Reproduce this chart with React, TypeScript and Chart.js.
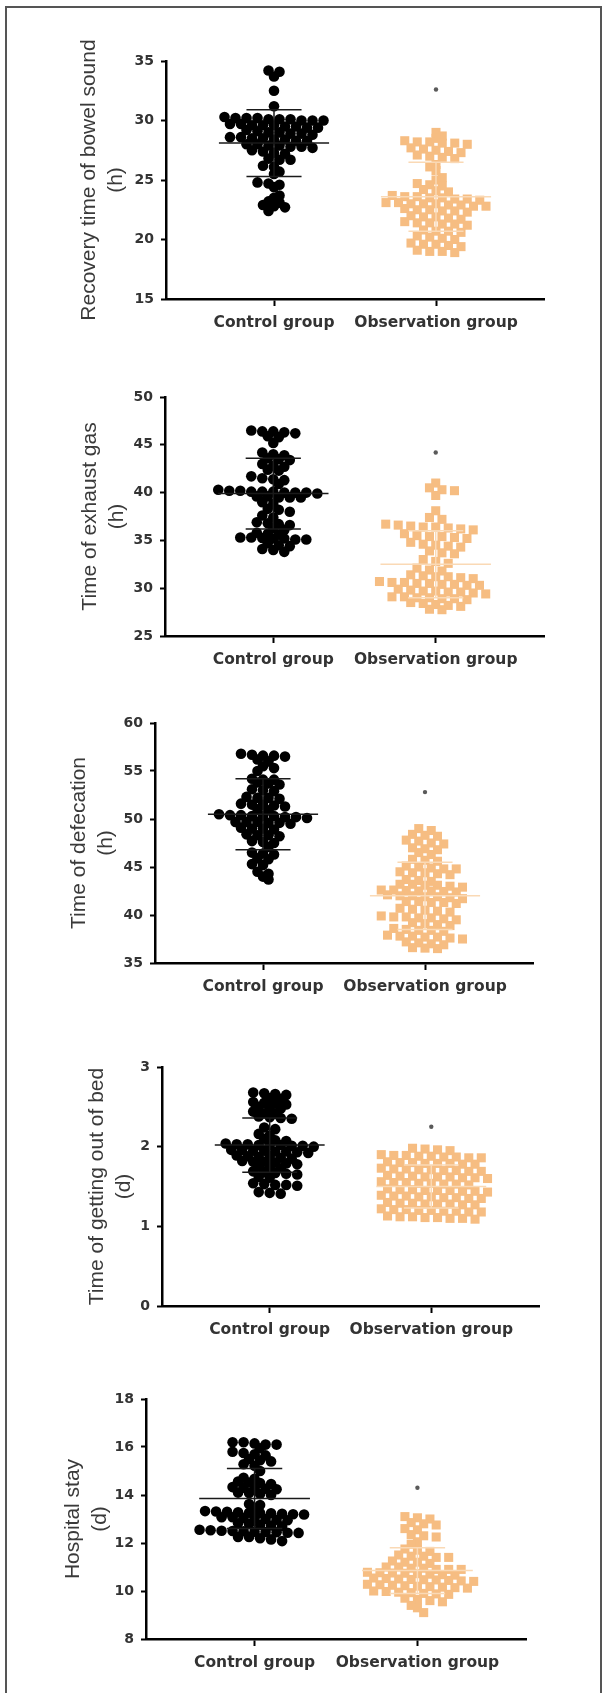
import React, { useEffect, useRef } from "react";
import { Chart, registerables } from "chart.js";

Chart.register(...registerables);

// ---------------- data ----------------
const categories = ["Control group", "Observation group"];

const bowelCtrl = [34.2, 34.1, 33.7, 32.5, 31.2,
  30.3, 30.2, 30.2, 30.2, 30.1, 30.1, 30.1, 30.0, 30.0, 30.0,
  29.7, 29.7, 29.6, 29.6, 29.6, 29.5, 29.5, 29.4, 29.4,
  29.2, 29.1, 29.0, 29.0, 28.9, 28.9, 28.8,
  28.6, 28.6, 28.5, 28.5, 28.4, 28.4, 28.3, 28.3,
  28.0, 28.0, 27.9, 27.9, 27.8, 27.8, 27.7,
  27.5, 27.4, 27.3, 27.2,
  26.8, 26.7, 26.7, 26.2, 26.1, 25.7, 25.5,
  24.8, 24.7, 24.6, 24.4,
  23.7, 23.5, 23.2, 23.1,
  22.9, 22.8, 22.7, 22.4];
const bowelObs = [29.0, 28.7, 28.5,
  28.3, 28.2, 28.2, 28.1, 28.1, 28.0,
  27.7, 27.6, 27.5, 27.4, 27.3,
  27.1, 27.0, 26.9, 26.8,
  26.3, 26.1, 25.8, 25.2, 25.0,
  24.7, 24.6, 24.5, 24.2, 24.1, 24.0,
  23.7, 23.6, 23.6, 23.5, 23.5, 23.4, 23.4, 23.3,
  23.1, 23.1, 23.0, 23.0, 23.0, 22.9, 22.9, 22.8, 22.8,
  22.6, 22.5, 22.5, 22.4, 22.4, 22.3,
  22.0, 21.9, 21.9, 21.8, 21.7,
  21.5, 21.4, 21.4, 21.3, 21.3, 21.2,
  20.8, 20.7, 20.7, 20.6,
  20.3, 20.2, 20.1, 20.0,
  19.7, 19.6, 19.6, 19.5, 19.4,
  19.1, 19.0, 19.0, 18.9];

const gasCtrl = [46.5, 46.4, 46.4, 46.3, 46.2, 45.9, 45.8,
  45.2, 44.2, 44.0, 43.9, 43.6, 43.5, 43.4,
  43.0, 42.8, 42.7, 42.4, 42.3,
  41.7, 41.5, 41.4, 41.3, 40.9,
  40.3, 40.2, 40.2, 40.1, 40.1, 40.1, 40.0, 40.0, 40.0, 39.9,
  39.6, 39.6, 39.5, 39.5, 39.5, 39.0, 38.8,
  38.3, 38.2, 38.0, 37.6, 37.4,
  36.9, 36.8, 36.7, 36.6, 36.3, 36.1,
  35.8, 35.7, 35.6,
  35.3, 35.3, 35.25, 35.2, 35.2, 35.1, 35.1,
  34.7, 34.5, 34.4, 34.1, 34.0, 33.8];
const gasObs = [41.0, 40.5, 40.3, 40.2, 39.7,
  38.1, 37.4, 37.2,
  36.7, 36.6, 36.5, 36.4, 36.4, 36.3, 36.2, 36.1,
  35.7, 35.5, 35.4, 35.4, 35.3, 35.2,
  34.8, 34.6, 34.5, 34.4, 34.3,
  33.9, 33.7, 33.6, 33.0, 32.8, 32.6,
  32.1, 31.9, 31.8,
  31.4, 31.3, 31.2, 31.2, 31.1, 31.0,
  30.7, 30.6, 30.6, 30.5, 30.5, 30.4, 30.4, 30.3, 30.3,
  29.9, 29.8, 29.7, 29.7, 29.6, 29.6, 29.5, 29.4,
  29.1, 29.1, 29.0, 29.0, 28.9, 28.9, 28.8,
  28.5, 28.4, 28.3, 28.2, 28.1, 27.8, 27.75];

const defCtrl = [56.8, 56.7, 56.6, 56.6, 56.5, 56.2, 56.0,
  55.5, 55.3, 55.0, 54.2, 54.1, 54.1,
  53.8, 53.7, 53.6, 53.1, 53.0, 52.9,
  52.3, 52.2, 52.2, 52.1,
  51.6, 51.5, 51.5, 51.4, 51.3, 51.0, 50.9,
  50.5, 50.4, 50.4, 50.3, 50.3, 50.3, 50.2, 50.2, 50.1,
  49.7, 49.7, 49.7, 49.6, 49.6, 49.5,
  49.1, 49.0, 49.0, 48.9,
  48.4, 48.3, 48.3, 48.2,
  47.7, 47.6, 47.5, 47.1,
  46.5, 46.4, 46.3, 45.9, 45.8,
  45.3, 45.2, 44.5, 44.3, 44.0, 43.7];
const defObs = [49.0, 48.8, 48.4, 48.3, 48.2,
  47.8, 47.7, 47.5, 47.4, 47.0, 46.9, 46.8,
  46.5, 46.3, 45.8, 45.7, 45.6,
  45.1, 45.0, 44.9, 44.8, 44.8,
  44.5, 44.4, 44.4, 44.3, 44.2,
  43.7, 43.6, 43.5,
  43.2, 43.2, 43.1, 43.1, 43.0, 42.9,
  42.6, 42.6, 42.55, 42.5, 42.5, 42.45, 42.4,
  42.1, 42.0, 42.0, 41.9, 41.9, 41.8, 41.7,
  41.4, 41.4, 41.3, 41.3, 41.2,
  40.7, 40.6, 40.5, 40.4, 40.3,
  39.9, 39.8, 39.8, 39.7, 39.7, 39.6, 39.5,
  39.2, 39.1, 39.0, 38.9,
  38.6, 38.5, 38.4, 38.4, 38.3,
  37.9, 37.8, 37.8, 37.7, 37.7, 37.6, 37.5,
  37.2, 37.1, 37.0, 36.9, 36.6, 36.55, 36.5];

const bedCtrl = [2.68, 2.67, 2.66, 2.65, 2.61, 2.60,
  2.56, 2.55, 2.54, 2.53, 2.50, 2.49, 2.48,
  2.44, 2.42, 2.41, 2.38, 2.37, 2.36, 2.35,
  2.24, 2.22, 2.16, 2.14, 2.10, 2.08, 2.07,
  2.04, 2.03, 2.03, 2.02, 2.02, 2.02, 2.01, 2.01, 2.00,
  1.96, 1.96, 1.95, 1.95, 1.94, 1.94, 1.93, 1.92,
  1.89, 1.88, 1.87, 1.87, 1.86, 1.85,
  1.82, 1.81, 1.81, 1.80, 1.79, 1.78,
  1.75, 1.74, 1.73,
  1.69, 1.68, 1.67, 1.66, 1.65, 1.62, 1.61,
  1.54, 1.53, 1.52, 1.52, 1.51,
  1.43, 1.42, 1.41];
const bedObs = [1.98, 1.97, 1.96, 1.95,
  1.90, 1.89, 1.89, 1.88, 1.88, 1.87, 1.87, 1.86, 1.86,
  1.81, 1.80, 1.80, 1.79, 1.79, 1.79, 1.78, 1.78,
  1.73, 1.72, 1.72, 1.71, 1.71, 1.70, 1.70, 1.69, 1.69,
  1.64, 1.63, 1.63, 1.62, 1.62, 1.62, 1.61, 1.61, 1.60,
  1.56, 1.55, 1.55, 1.54, 1.54, 1.53, 1.53, 1.52,
  1.47, 1.46, 1.46, 1.45, 1.45, 1.45, 1.44, 1.44, 1.43,
  1.39, 1.38, 1.38, 1.37, 1.37, 1.36, 1.36, 1.35, 1.35,
  1.30, 1.29, 1.29, 1.28, 1.28, 1.28, 1.27, 1.27,
  1.22, 1.21, 1.21, 1.20, 1.20, 1.19, 1.19, 1.18, 1.18,
  1.13, 1.12, 1.12, 1.11, 1.11, 1.10, 1.10, 1.09];

const stayCtrl = [16.2, 16.2, 16.15, 16.1, 16.1, 15.95,
  15.8, 15.75, 15.7, 15.65, 15.5, 15.45, 15.4,
  15.28, 15.22, 15.0, 14.72, 14.68,
  14.56, 14.52, 14.5, 14.46,
  14.33, 14.3, 14.28, 14.26, 14.24,
  14.1, 14.08, 14.04, 14.0,
  13.62, 13.58, 13.47,
  13.33, 13.31, 13.3, 13.28, 13.26, 13.25, 13.24, 13.22, 13.2, 13.19,
  13.07, 13.07, 13.04, 13.02, 13.0, 12.97, 12.95,
  12.82, 12.79, 12.76, 12.73, 12.7,
  12.55, 12.53, 12.51, 12.5, 12.49, 12.47, 12.46, 12.45, 12.43, 12.42,
  12.25, 12.25, 12.2, 12.15, 12.08];
const stayObs = [13.1, 13.05, 13.0, 12.85, 12.8, 12.75,
  12.6, 12.55, 12.35, 12.3, 12.25, 12.05, 11.95,
  11.75, 11.7, 11.65,
  11.5, 11.45, 11.45, 11.4, 11.4,
  11.25, 11.2, 11.2, 11.15,
  11.0, 11.0, 10.95, 10.95, 10.9, 10.9, 10.9,
  10.78, 10.76, 10.75, 10.74, 10.72, 10.7, 10.68, 10.66,
  10.54, 10.52, 10.5, 10.48, 10.47, 10.46, 10.44, 10.42, 10.4,
  10.28, 10.26, 10.24, 10.22, 10.2, 10.18, 10.16, 10.14, 10.12,
  10.0, 9.98, 9.95, 9.93, 9.9, 9.88, 9.86,
  9.7, 9.65, 9.6, 9.55, 9.4, 9.3, 9.1];

// mean and SD as drawn in the picture
const ctrlMean = [28.1, 39.9, 50.5, 2.02, 13.85];
const ctrlSD = [2.8, 3.7, 3.7, 0.34, 1.25];
const obsMean = [23.6, 32.5, 42.0, 1.5, 10.85];
const obsSD = [2.9, 3.5, 3.5, 0.27, 0.95];
const sigMark = [32.6, 44.2, 52.8, 2.25, 14.3];

const yTitles = [
  ["Recovery time of bowel sound", "(h)"],
  ["Time of exhaust gas", "(h)"],
  ["Time of defecation", "(h)"],
  ["Time of getting out of bed", "(d)"],
  ["Hospital stay", "(d)"],
];
const yMin = [15, 25, 35, 0, 8];
const yMax = [35, 50, 60, 3, 18];
const yStep = [5, 5, 5, 1, 2];

const ctrlSeries = [bowelCtrl, gasCtrl, defCtrl, bedCtrl, stayCtrl];
const obsSeries = [bowelObs, gasObs, defObs, bedObs, stayObs];

// ---------------- layout (pixels) ----------------
const layouts = [
  { axisX: 166, axisEnd: 544, yTop: 61, yBot: 299, titleX: 89 },
  { axisX: 165, axisEnd: 544, yTop: 397, yBot: 636, titleX: 90 },
  { axisX: 155, axisEnd: 533, yTop: 723, yBot: 963, titleX: 79 },
  { axisX: 162, axisEnd: 539, yTop: 1067, yBot: 1306, titleX: 97 },
  { axisX: 146, axisEnd: 526, yTop: 1399, yBot: 1639, titleX: 73 },
];
const PAD_TOP = 45;
const X_H = 50;
const W = 606;
const TITLE_SIZE = 21;
const TITLE_LH = 1.29;
const ROW_GAP = 2.2; // px: a larger gap between values starts a new row
const ROW_SPAN = 7; // px: max height of one row
const CIRCLE_PITCH = 11;
const SQUARE_PITCH = 12.5;

// Prism-like scatter: values grouped into rows, each row spread symmetrically,
// neighbouring rows staggered by half a pitch
function rowLayout(py: number[], pitch: number, markSize: number): number[] {
  const order = py.map((_, i) => i).sort((a, b) => py[a] - py[b]);
  const out = new Array(py.length).fill(0);
  let row: number[] = [];
  let prevPhase = -1;
  let prevY = -1e9;
  let sign = 1;
  const frac = (v: number) => ((v % 1) + 1) % 1;
  const flush = () => {
    const n = row.length;
    if (!n) return;
    const yc = row.reduce((s, i) => s + py[i], 0) / n;
    let shift = 0;
    let phase = frac(-(n - 1) / 2);
    if (yc - prevY < markSize && Math.abs(phase - prevPhase) < 0.01) {
      shift = 0.5 * sign;
      sign = -sign;
      phase = frac(phase + 0.5);
    }
    row.forEach((i, j) => { out[i] = (j - (n - 1) / 2 + shift) * pitch; });
    prevPhase = phase;
    prevY = yc;
    row = [];
  };
  for (const i of order) {
    if (row.length) {
      const last = py[row[row.length - 1]];
      const first = py[row[0]];
      if (py[i] - last > ROW_GAP || py[i] - first > ROW_SPAN) flush();
    }
    row.push(i);
  }
  flush();
  return out;
}

function Panel({ k }: { k: number }) {
  const ref = useRef<HTMLCanvasElement | null>(null);
  const L = layouts[k];
  const height = L.yBot - L.yTop + PAD_TOP + X_H;
  useEffect(() => {
    if (!ref.current) return;
    const ctrl = ctrlSeries[k];
    const obs = obsSeries[k];
    const lh = TITLE_SIZE * TITLE_LH;
    const meanSd = {
      id: "meanSd" + k,
      afterDatasetsDraw(chart: any) {
        const { ctx, scales } = chart;
        const x = scales.x, y = scales.y;
        const draw = (cat: number, m: number, sd: number, color: string) => {
          const yM = y.getPixelForValue(m), yU = y.getPixelForValue(m + sd), yL = y.getPixelForValue(m - sd);
          const xc = x.getPixelForValue(cat);
          ctx.save();
          ctx.strokeStyle = color;
          ctx.lineWidth = 1.5;
          ctx.beginPath();
          ctx.moveTo(x.getPixelForValue(cat - 0.34), yM); ctx.lineTo(x.getPixelForValue(cat + 0.34), yM);
          ctx.moveTo(x.getPixelForValue(cat - 0.17), yU); ctx.lineTo(x.getPixelForValue(cat + 0.17), yU);
          ctx.moveTo(x.getPixelForValue(cat - 0.17), yL); ctx.lineTo(x.getPixelForValue(cat + 0.17), yL);
          ctx.moveTo(xc, yU); ctx.lineTo(xc, yL);
          ctx.stroke();
          ctx.restore();
        };
        draw(1, ctrlMean[k], ctrlSD[k], "#1a1a1a");
        draw(2, obsMean[k], obsSD[k], "#FAD9B5");
      },
    };
    const chart = new Chart(ref.current, {
      type: "scatter",
      data: {
        datasets: [
          { data: [{ x: 2, y: sigMark[k] }], pointRadius: 2.2, pointStyle: "circle", backgroundColor: "#5a5a5a", borderWidth: 0 },
          { data: ctrl.map((v) => ({ x: 1, y: v })), pointRadius: 5.3, pointStyle: "circle", backgroundColor: "#000000", borderWidth: 0 },
          { data: obs.map((v) => ({ x: 2, y: v })), pointRadius: 6.4, pointStyle: "rect", backgroundColor: "#F6BD82", borderWidth: 0 },
        ],
      } as any,
      options: {
        responsive: false,
        animation: false,
        devicePixelRatio: 1,
        events: [],
        layout: { padding: { top: PAD_TOP, right: W - L.axisEnd, left: 0, bottom: 0 } },
        plugins: { legend: { display: false }, tooltip: { enabled: false } },
        scales: {
          x: {
            type: "linear",
            min: 1 / 3,
            max: 8 / 3,
            afterBuildTicks: (s: any) => { s.ticks = [{ value: 1 }, { value: 2 }]; },
            afterFit: (s: any) => { s.height = X_H; },
            ticks: {
              autoSkip: false,
              maxRotation: 0,
              padding: 8,
              color: "#333333",
              font: { family: "DejaVu Sans", weight: "bold", size: 15.5 },
              callback: (v: any) => (v === 1 ? categories[0] : v === 2 ? categories[1] : ""),
            },
            grid: { drawOnChartArea: false, drawTicks: true, tickLength: 7, tickWidth: 2, tickColor: "#000" },
            border: { display: true, color: "#000", width: 2.5 },
          },
          y: {
            type: "linear",
            min: yMin[k],
            max: yMax[k],
            afterFit: (s: any) => { s.width = L.axisX; },
            ticks: {
              stepSize: yStep[k],
              padding: 7,
              color: "#333333",
              font: { family: "DejaVu Sans", weight: "bold", size: 14 },
            },
            grid: { drawOnChartArea: false, drawTicks: true, tickLength: 5, tickWidth: 2, tickColor: "#000" },
            border: { display: true, color: "#000", width: 2.5 },
            title: {
              display: true,
              text: yTitles[k],
              color: "#3a3a3a",
              font: { family: "Liberation Sans", size: TITLE_SIZE, lineHeight: TITLE_LH },
              padding: { top: L.titleX - lh / 2, bottom: 0 },
            },
          },
        },
      } as any,
      plugins: [meanSd],
    });
    const xs: any = chart.scales.x;
    const ys: any = chart.scales.y;
    const ppu = xs.getPixelForValue(2) - xs.getPixelForValue(1);
    const oc = rowLayout(ctrl.map((v) => ys.getPixelForValue(v)), CIRCLE_PITCH, 10);
    const oo = rowLayout(obs.map((v) => ys.getPixelForValue(v)), SQUARE_PITCH, 9);
    (chart.data.datasets[1] as any).data = ctrl.map((v, i) => ({ x: 1 + oc[i] / ppu, y: v }));
    (chart.data.datasets[2] as any).data = obs.map((v, i) => ({ x: 2 + oo[i] / ppu, y: v }));
    chart.update("none");
    return () => chart.destroy();
  }, [k]);
  return (
    <canvas
      ref={ref}
      width={W}
      height={height}
      style={{ position: "absolute", left: 0, top: L.yTop - PAD_TOP, width: W, height, display: "block" }}
    />
  );
}

export default function App() {
  return (
    <div style={{ position: "absolute", left: 0, top: 0, width: 606, height: 1693, overflow: "hidden", background: "#fff" }}>
      <div
        style={{
          position: "absolute", left: 5, top: 6, width: 597, height: 1720, boxSizing: "border-box",
          borderLeft: "2px solid #555", borderTop: "2px solid #555", borderRight: "2px solid #555",
        }}
      />
      {layouts.map((_, k) => (
        <Panel key={k} k={k} />
      ))}
    </div>
  );
}
